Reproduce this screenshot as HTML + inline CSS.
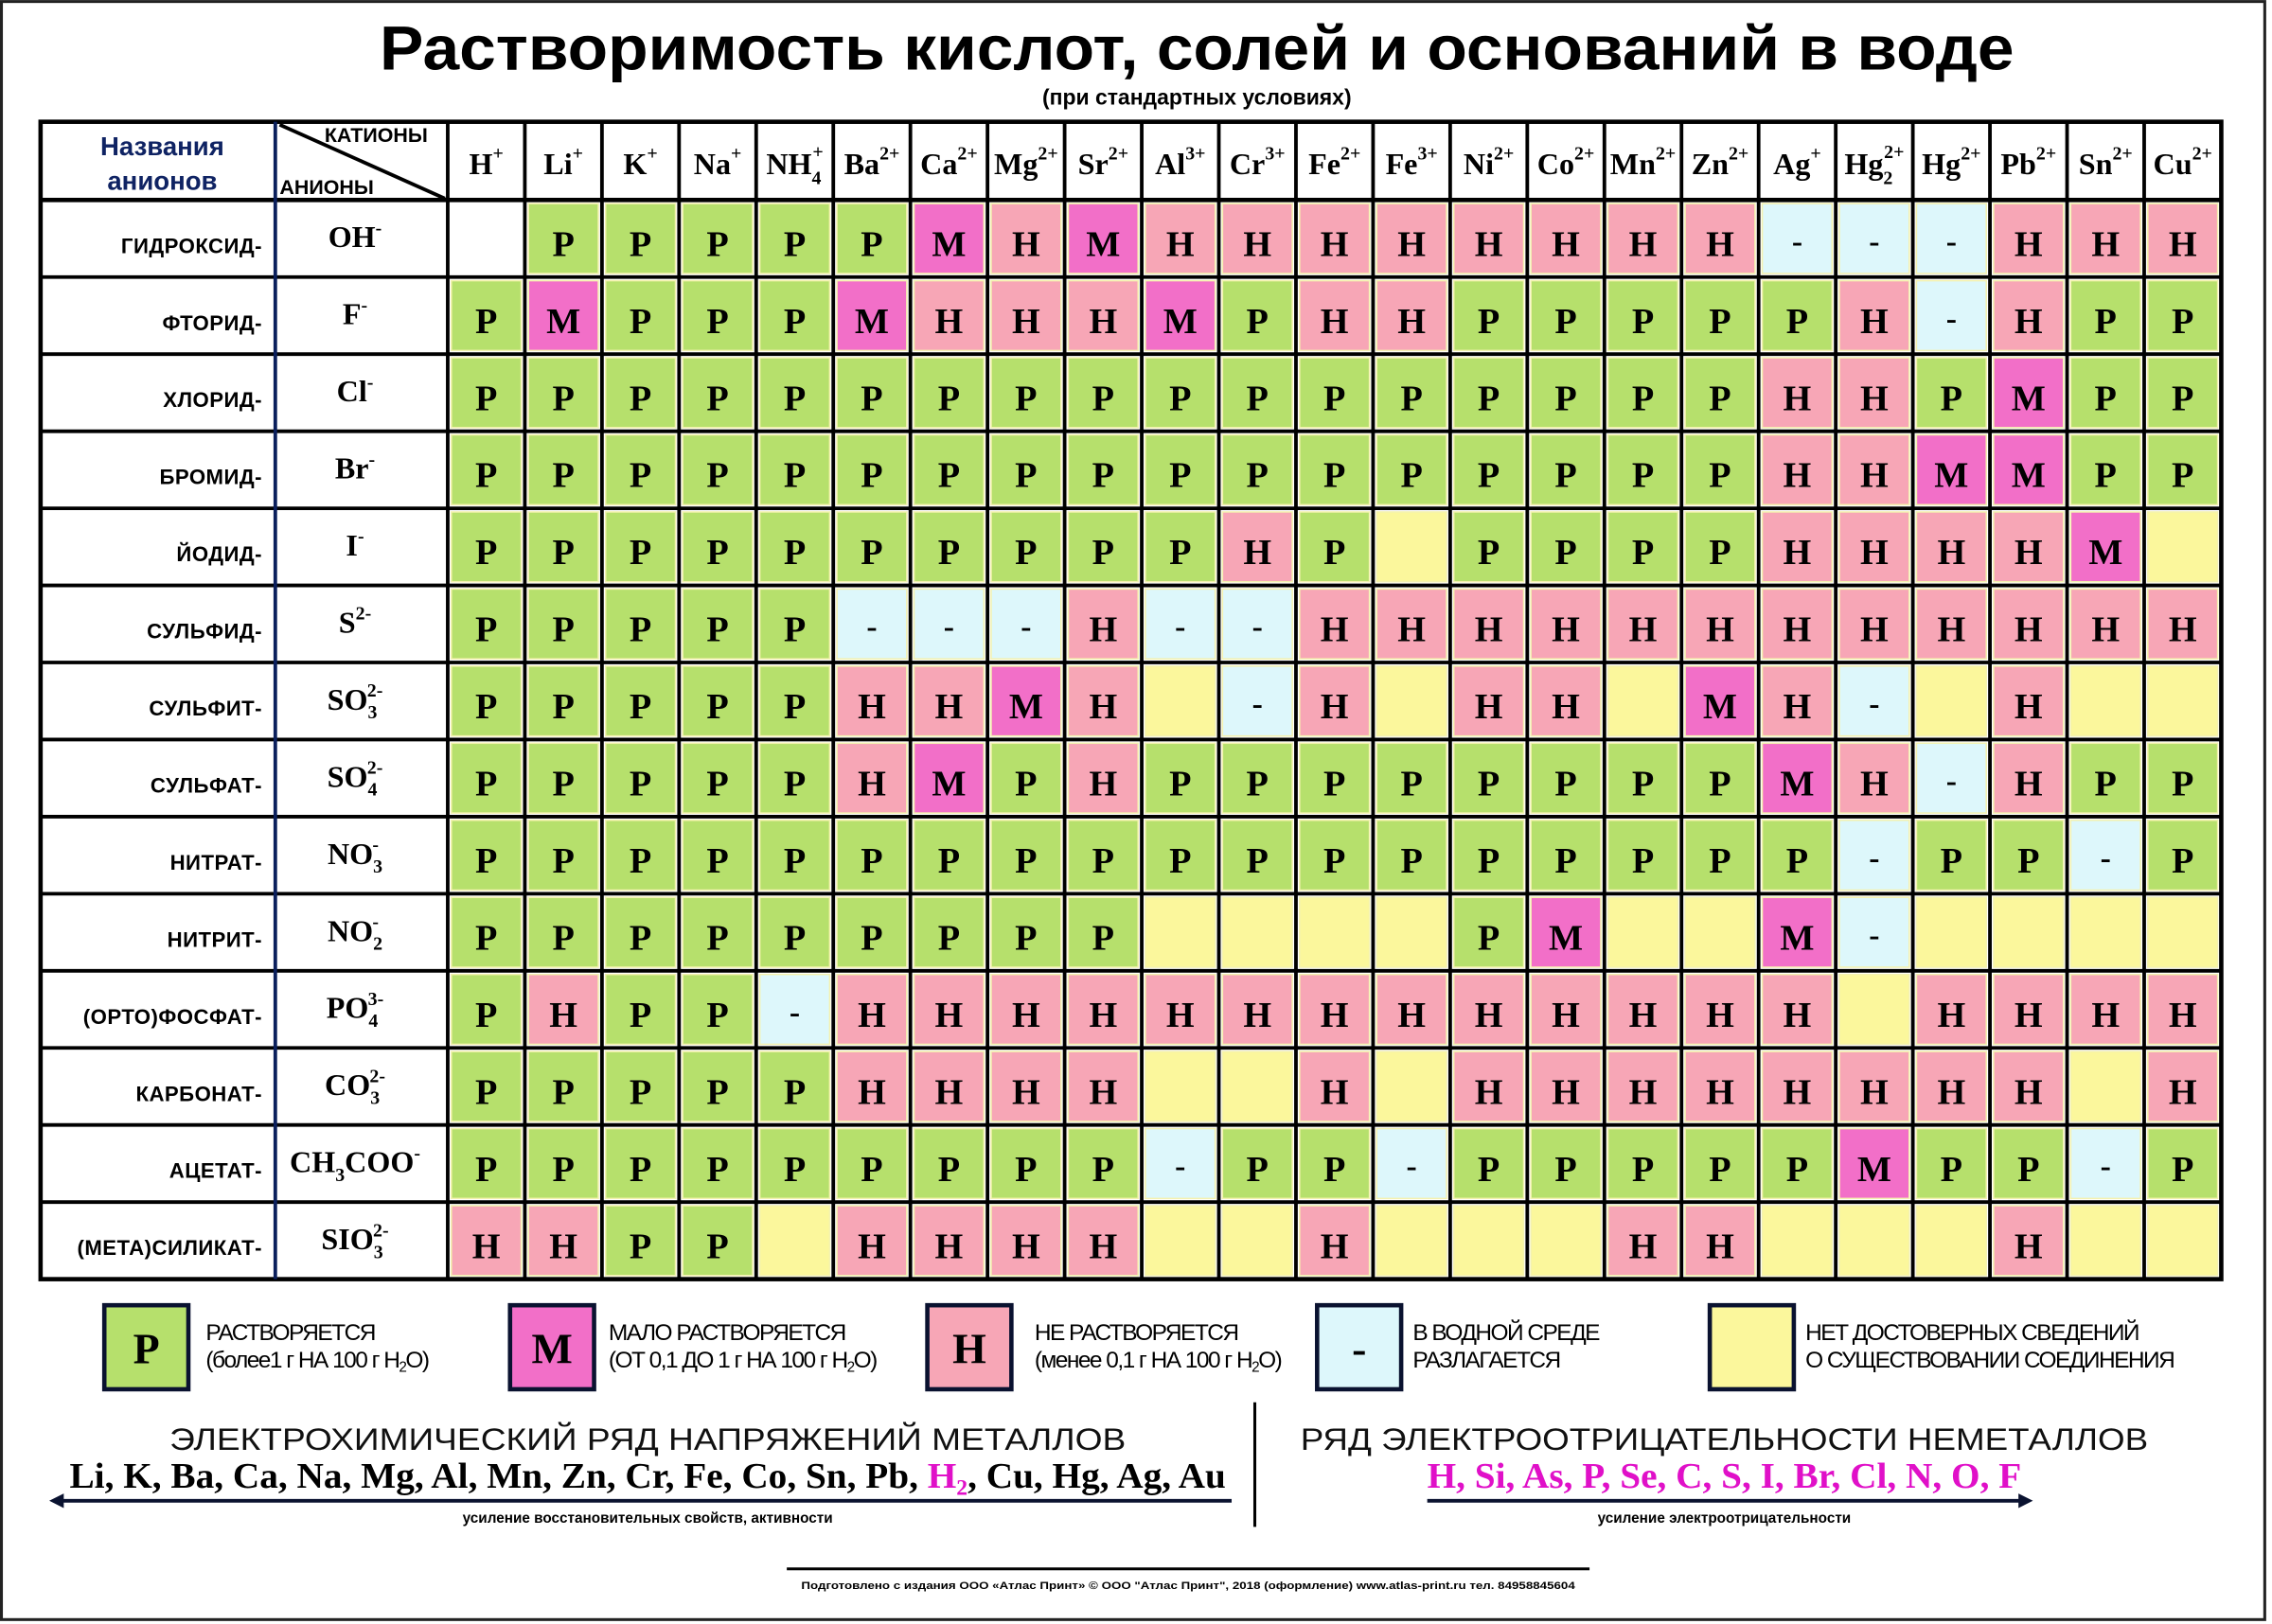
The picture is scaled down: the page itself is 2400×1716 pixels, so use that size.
<!DOCTYPE html>
<html><head><meta charset="utf-8"><style>
html,body{margin:0;padding:0;background:#fff;}
svg{display:block;}
.ser{font-family:"Liberation Serif",serif;font-weight:bold;}
.san{font-family:"Liberation Sans",sans-serif;font-weight:bold;}
</style></head><body>
<svg id="s" width="2400" height="1716" viewBox="0 0 1568 1121" xmlns="http://www.w3.org/2000/svg">
<rect x="0" y="0" width="1568" height="1121" fill="#fff"/>
<rect x="1" y="1" width="1562" height="1117" fill="none" stroke="#222" stroke-width="2"/>
<text x="826" y="48" text-anchor="middle" class="san" font-size="43" textLength="1128" lengthAdjust="spacingAndGlyphs">Растворимость кислот, солей и оснований в воде</text>
<text x="826" y="72" text-anchor="middle" class="san" font-size="15">(при стандартных условиях)</text>
<g id="g"></g>
</svg>
<script>
var NS="http://www.w3.org/2000/svg",g=document.getElementById('g');
function el(t,a,txt){var e=document.createElementNS(NS,t);for(var k in a)e.setAttribute(k,a[k]);if(txt!=null)e.innerHTML=txt;g.appendChild(e);return e;}
var C={"Р":"#b6e06c","М":"#f26fc8","Н":"#f7a6b6","-":"#ddf7fb","?":"#fbf79c","0":"#ffffff"};
var X0=309,W=(1533-309)/23,Y0=138,H=(883-138)/14;
var rows=[
["ГИДРОКСИД-","OH<tspan dy='-9' font-size='13'>-</tspan>","0 Р Р Р Р Р М Н М Н Н Н Н Н Н Н Н - - - Н Н Н"],
["ФТОРИД-","F<tspan dy='-9' font-size='13'>-</tspan>","Р М Р Р Р М Н Н Н М Р Н Н Р Р Р Р Р Н - Н Р Р"],
["ХЛОРИД-","Cl<tspan dy='-9' font-size='13'>-</tspan>","Р Р Р Р Р Р Р Р Р Р Р Р Р Р Р Р Р Н Н Р М Р Р"],
["БРОМИД-","Br<tspan dy='-9' font-size='13'>-</tspan>","Р Р Р Р Р Р Р Р Р Р Р Р Р Р Р Р Р Н Н М М Р Р"],
["ЙОДИД-","I<tspan dy='-9' font-size='13'>-</tspan>","Р Р Р Р Р Р Р Р Р Р Н Р ? Р Р Р Р Н Н Н Н М ?"],
["СУЛЬФИД-","S<tspan dy='-9' font-size='13'>2-</tspan>","Р Р Р Р Р - - - Н - - Н Н Н Н Н Н Н Н Н Н Н Н"],
["СУЛЬФИТ-","SO<tspan dy='6' font-size='13'>3</tspan><tspan dx='-7' dy='-15' font-size='13'>2-</tspan>","Р Р Р Р Р Н Н М Н ? - Н ? Н Н ? М Н - ? Н ? ?"],
["СУЛЬФАТ-","SO<tspan dy='6' font-size='13'>4</tspan><tspan dx='-7' dy='-15' font-size='13'>2-</tspan>","Р Р Р Р Р Н М Р Н Р Р Р Р Р Р Р Р М Н - Н Р Р"],
["НИТРАТ-","NO<tspan dy='6' font-size='13'>3</tspan><tspan dx='-7' dy='-15' font-size='13'>-</tspan>","Р Р Р Р Р Р Р Р Р Р Р Р Р Р Р Р Р Р - Р Р - Р"],
["НИТРИТ-","NO<tspan dy='6' font-size='13'>2</tspan><tspan dx='-7' dy='-15' font-size='13'>-</tspan>","Р Р Р Р Р Р Р Р Р ? ? ? ? Р М ? ? М - ? ? ? ?"],
["(ОРТО)ФОСФАТ-","PO<tspan dy='6' font-size='13'>4</tspan><tspan dx='-7' dy='-15' font-size='13'>3-</tspan>","Р Н Р Р - Н Н Н Н Н Н Н Н Н Н Н Н Н ? Н Н Н Н"],
["КАРБОНАТ-","CO<tspan dy='6' font-size='13'>3</tspan><tspan dx='-7' dy='-15' font-size='13'>2-</tspan>","Р Р Р Р Р Н Н Н Н ? ? Н ? Н Н Н Н Н Н Н Н ? Н"],
["АЦЕТАТ-","CH<tspan dy='6' font-size='13'>3</tspan><tspan dy='-6'>COO</tspan><tspan dy='-9' font-size='13'>-</tspan>","Р Р Р Р Р Р Р Р Р - Р Р - Р Р Р Р Р М Р Р - Р"],
["(МЕТА)СИЛИКАТ-","SIO<tspan dy='6' font-size='13'>3</tspan><tspan dx='-7' dy='-15' font-size='13'>2-</tspan>","Н Н Р Р ? Н Н Н Н ? ? Н ? ? ? Н Н ? ? ? Н ? ?"]];
var cat=[["H","+"],["Li","+"],["K","+"],["Na","+"],["NH","+","4"],["Ba","2+"],["Ca","2+"],["Mg","2+"],["Sr","2+"],["Al","3+"],["Cr","3+"],["Fe","2+"],["Fe","3+"],["Ni","2+"],["Co","2+"],["Mn","2+"],["Zn","2+"],["Ag","+"],["Hg","2+","2"],["Hg","2+"],["Pb","2+"],["Sn","2+"],["Cu","2+"]];
rows.forEach(function(r,i){
 var v=r[2].split(' '),y=Y0+i*H;
 v.forEach(function(c,j){var x=X0+j*W;
  if(c!="0")el('rect',{x:x+2.5,y:y+2.5,width:W-5,height:H-5,fill:C[c],stroke:"#f4f2b0","stroke-width":1});
  if(c=="Р"||c=="М"||c=="Н")el('text',{x:x+W/2,y:y+H/2+12,"text-anchor":"middle","class":"ser","font-size":25},c);
  if(c=="-")el('text',{x:x+W/2,y:y+H/2+9,"text-anchor":"middle","class":"ser","font-size":22},"-");
 });
 el('text',{x:181,y:y+H/2+10,"text-anchor":"end","class":"san","font-size":14.5,style:"letter-spacing:0.3px"},r[0]);
 el('text',{x:245,y:y+H/2+6,"text-anchor":"middle","class":"ser","font-size":21},r[1]);
});
cat.forEach(function(c,j){var x=X0+j*W+W/2;
 var s=c[0]+(c[2]?"<tspan dy='7' font-size='13'>"+c[2]+"</tspan><tspan dx='-6' dy='-18' font-size='13'>"+c[1]+"</tspan>":"<tspan dy='-10' font-size='13'>"+c[1]+"</tspan>");
 el('text',{x:x,y:120,"text-anchor":"middle","class":"ser","font-size":21},s);
});
el('rect',{x:28,y:84,width:1505,height:799,fill:"none",stroke:"#000","stroke-width":3});
for(var i=1;i<14;i++)el('line',{x1:28,x2:1533,y1:Y0+i*H,y2:Y0+i*H,stroke:"#000","stroke-width":2.5});
el('line',{x1:28,x2:1533,y1:138,y2:138,stroke:"#000","stroke-width":3});
for(var j=0;j<23;j++)el('line',{x1:X0+j*W,x2:X0+j*W,y1:84,y2:883,stroke:"#000","stroke-width":2.5});
el('line',{x1:190,x2:190,y1:84,y2:883,stroke:"#0a1f5c","stroke-width":2.5});
el('line',{x1:193,y1:86,x2:307,y2:137,stroke:"#000","stroke-width":2.5});
el('text',{x:112,y:107,"text-anchor":"middle","class":"san","font-size":18,fill:"#0f2363"},"Названия");
el('text',{x:112,y:131,"text-anchor":"middle","class":"san","font-size":18,fill:"#0f2363"},"анионов");
el('text',{x:224,y:98,"class":"san","font-size":14},"КАТИОНЫ");
el('text',{x:193,y:134,"class":"san","font-size":14},"АНИОНЫ");
var L=[[72,"Р","#b6e06c","РАСТВОРЯЕТСЯ","(более1 г НА 100 г H<tspan dy='3' font-size='10'>2</tspan><tspan dy='-3'>O)</tspan>",142],
[352,"М","#f26fc8","МАЛО РАСТВОРЯЕТСЯ","(ОТ 0,1 ДО 1 г НА 100 г H<tspan dy='3' font-size='10'>2</tspan><tspan dy='-3'>O)</tspan>",420],
[640,"Н","#f7a6b6","НЕ РАСТВОРЯЕТСЯ","(менее 0,1 г НА 100 г H<tspan dy='3' font-size='10'>2</tspan><tspan dy='-3'>O)</tspan>",714],
[909,"-","#ddf7fb","В ВОДНОЙ СРЕДЕ","РАЗЛАГАЕТСЯ",975],
[1180,"","#fbf79c","НЕТ ДОСТОВЕРНЫХ СВЕДЕНИЙ","О СУЩЕСТВОВАНИИ СОЕДИНЕНИЯ",1246]];
L.forEach(function(l){
 el('rect',{x:l[0],y:901,width:58,height:58,fill:l[2],stroke:"#0a1230","stroke-width":3});
 if(l[1])el('text',{x:l[0]+29,y:941,"text-anchor":"middle","class":"ser","font-size":30},l[1]);
 el('text',{x:l[5],y:925,"font-family":"Liberation Sans Narrow, Liberation Sans, sans-serif","font-size":16,style:"letter-spacing:-1px"},l[3]);
 el('text',{x:l[5],y:944,"font-family":"Liberation Sans Narrow, Liberation Sans, sans-serif","font-size":16,style:"letter-spacing:-1px"},l[4]);
});
el('text',{x:447,y:1001,"text-anchor":"middle","font-family":"Liberation Sans, sans-serif","font-size":21,fill:"#111","textLength":660,lengthAdjust:"spacingAndGlyphs"},"ЭЛЕКТРОХИМИЧЕСКИЙ РЯД НАПРЯЖЕНИЙ МЕТАЛЛОВ");
el('text',{x:447,y:1027,"text-anchor":"middle","class":"ser","font-size":25,textLength:798,lengthAdjust:"spacingAndGlyphs"},"Li, K, Ba, Ca, Na, Mg, Al, Mn, Zn, Cr, Fe, Co, Sn, Pb, <tspan fill='#e010c8'>H<tspan dy='5' font-size='15'>2</tspan></tspan><tspan dy='-5'>, Cu, Hg, Ag, Au</tspan>");
el('line',{x1:40,y1:1036,x2:850,y2:1036,stroke:"#0a1230","stroke-width":2.5});
el('path',{d:"M34 1036 L44 1031 L44 1041 Z",fill:"#0a1230"});
el('text',{x:447,y:1051,"text-anchor":"middle","class":"san","font-size":10},"усиление восстановительных свойств, активности");
el('line',{x1:866,y1:968,x2:866,y2:1054,stroke:"#000","stroke-width":2});
el('text',{x:1190,y:1001,"text-anchor":"middle","font-family":"Liberation Sans, sans-serif","font-size":21,fill:"#111",textLength:585,lengthAdjust:"spacingAndGlyphs"},"РЯД ЭЛЕКТРООТРИЦАТЕЛЬНОСТИ НЕМЕТАЛЛОВ");
el('text',{x:1190,y:1027,"text-anchor":"middle","class":"ser","font-size":25,fill:"#e010c8",textLength:410,lengthAdjust:"spacingAndGlyphs"},"H, Si, As, P, Se, C, S, I, Br, Cl, N, O, F");
el('line',{x1:985,y1:1036,x2:1396,y2:1036,stroke:"#0a1230","stroke-width":2.5});
el('path',{d:"M1403 1036 L1393 1031 L1393 1041 Z",fill:"#0a1230"});
el('text',{x:1190,y:1051,"text-anchor":"middle","class":"san","font-size":10},"усиление электроотрицательности");
el('line',{x1:543,y1:1083,x2:1097,y2:1083,stroke:"#000","stroke-width":2});
el('text',{x:820,y:1097,"text-anchor":"middle","class":"san","font-size":7,textLength:534,lengthAdjust:"spacingAndGlyphs"},"Подготовлено с издания ООО «Атлас Принт»    © ООО \"Атлас Принт\", 2018 (оформление)    www.atlas-print.ru    тел. 84958845604");
</script>
</body></html>
